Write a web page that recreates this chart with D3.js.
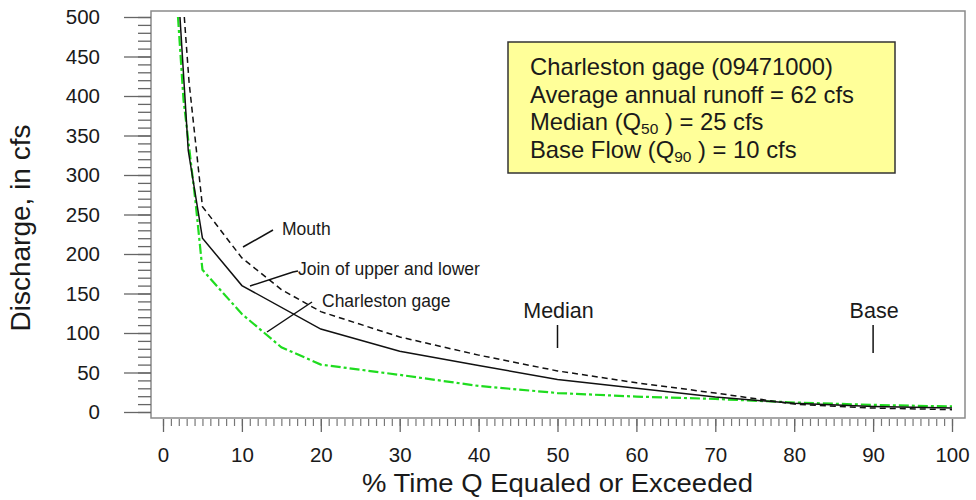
<!DOCTYPE html>
<html>
<head>
<meta charset="utf-8">
<script src="https://cdn.jsdelivr.net/npm/d3@7"></script>
<style>
  body { margin: 0; background: #fff; }
  text { font-family: "Liberation Sans", Arial, sans-serif; fill: #1a1a1a; }
</style>
</head>
<body>
<script>
// flow-duration curves: [% time exceeded, discharge cfs]
var mouth = [[2.7, 500], [3.3, 418], [5, 260], [10, 195], [15, 155], [20, 127], [30, 95], [40, 72], [50, 52], [60, 37], [70, 24], [80, 10], [90, 5], [100, 3]];
var join = [[2.15, 500], [3.2, 331], [5, 220], [10, 160], [20, 105], [30, 77], [40, 59], [50, 41], [60, 30], [70, 19], [80, 11], [90, 7], [100, 5]];
var gage = [[1.9, 500], [2.6, 395], [4.1, 268], [5, 180], [10, 124], [15, 82], [20, 60], [30, 47], [40, 33], [50, 24], [60, 19.5], [70, 16.5], [80, 12], [90, 9], [100, 7]];

var xTicks = [0, 10, 20, 30, 40, 50, 60, 70, 80, 90, 100];
var yTicks = [0, 50, 100, 150, 200, 250, 300, 350, 400, 450, 500];

var markers = [{ label: "Median", x: 50 }, { label: "Base", x: 90 }];
var infoLines = [
  { text: "Charleston gage (09471000)" },
  { text: "Average annual runoff = 62 cfs" },
  { text: "Median (Q", sub: "50", rest: " ) = 25 cfs" },
  { text: "Base Flow (Q", sub: "90", rest: " ) = 10 cfs" }
];

var width = 976,
  height = 500;

var svg = d3.select("body").append("svg")
  .attr("width", width)
  .attr("height", height);

var x = d3.scaleLinear().domain([0, 100]).range([163, 952]);
var y = d3.scaleLinear().domain([0, 500]).range([412, 17]);

// frame
svg.append("rect")
  .attr("x", 151).attr("y", 11)
  .attr("width", 814).attr("height", 407)
  .attr("fill", "#fff")
  .attr("stroke", "#8a8a8a")
  .attr("stroke-width", 1.5);

// y axis: minor then major
svg.append("g")
  .attr("transform", "translate(151,0)")
  .call(d3.axisLeft(y).tickValues(d3.range(0, 501, 10)).tickSize(13).tickFormat(""))
  .call(function (g) { g.select(".domain").remove(); g.selectAll("line").attr("stroke", "#666").attr("stroke-width", 1.3); });

svg.append("g")
  .attr("transform", "translate(151,0)")
  .call(d3.axisLeft(y).tickValues(yTicks).tickSize(27).tickPadding(24))
  .call(function (g) {
    g.select(".domain").remove();
    g.selectAll("line").attr("stroke", "#666").attr("stroke-width", 1.3);
    g.selectAll("text").attr("font-size", 20.5).attr("font-family", null).attr("fill", "#1a1a1a");
  });

// x axis
svg.append("g")
  .attr("transform", "translate(0,419)")
  .call(d3.axisBottom(x).tickValues(d3.range(0, 101, 1)).tickSize(7).tickFormat(""))
  .call(function (g) { g.select(".domain").remove(); g.selectAll("line").attr("stroke", "#777").attr("stroke-width", 1.2); });

svg.append("g")
  .attr("transform", "translate(0,419)")
  .call(d3.axisBottom(x).tickValues(xTicks).tickSize(13).tickPadding(15))
  .call(function (g) {
    g.select(".domain").remove();
    g.selectAll("line").attr("stroke", "#666").attr("stroke-width", 1.3);
    g.selectAll("text").attr("font-size", 20.5).attr("font-family", null).attr("fill", "#1a1a1a");
  });

// axis titles
svg.append("text")
  .attr("x", 557.5).attr("y", 492)
  .attr("text-anchor", "middle")
  .attr("font-size", 25)
  .attr("textLength", 391).attr("lengthAdjust", "spacingAndGlyphs")
  .text("% Time Q Equaled or Exceeded");

svg.append("text")
  .attr("transform", "translate(30,228) rotate(-90)")
  .attr("text-anchor", "middle")
  .attr("font-size", 28)
  .text("Discharge, in cfs");

// curves
var line = d3.line()
  .x(function (d) { return x(d[0]); })
  .y(function (d) { return y(d[1]); });

svg.append("path")
  .datum(gage)
  .attr("d", line)
  .attr("fill", "none")
  .attr("stroke", "#1fdc1f")
  .attr("stroke-width", 2.2)
  .attr("stroke-dasharray", "10,3,3,3");

svg.append("path")
  .datum(join)
  .attr("d", line)
  .attr("fill", "none")
  .attr("stroke", "#111")
  .attr("stroke-width", 1.5);

svg.append("path")
  .datum(mouth)
  .attr("d", line)
  .attr("fill", "none")
  .attr("stroke", "#111")
  .attr("stroke-width", 1.5)
  .attr("stroke-dasharray", "6,4");

// curve labels with leader lines
var labels = [
  { text: "Mouth", tx: 282, ty: 235, l: [[243, 247], [273, 230]] },
  { text: "Join of upper and lower", tx: 298, ty: 275, l: [[250, 286], [293, 272], [298, 271]] },
  { text: "Charleston gage", tx: 322, ty: 307, l: [[267, 332], [312, 302]] }
];
labels.forEach(function (d) {
  svg.append("path")
    .attr("d", d3.line()(d.l))
    .attr("fill", "none")
    .attr("stroke", "#111")
    .attr("stroke-width", 1.5);
  svg.append("text")
    .attr("x", d.tx).attr("y", d.ty)
    .attr("font-size", 17.5)
    .text(d.text);
});

// median / base markers
markers.forEach(function (d) {
  svg.append("text")
    .attr("x", x(d.x) + 1).attr("y", 318)
    .attr("text-anchor", "middle")
    .attr("font-size", 21.5)
    .text(d.label);
  svg.append("line")
    .attr("x1", x(d.x)).attr("x2", x(d.x))
    .attr("y1", 325).attr("y2", d.x == 90 ? 353 : 348)
    .attr("stroke", "#111")
    .attr("stroke-width", 1.5);
});

// info box
svg.append("rect")
  .attr("x", 508).attr("y", 42)
  .attr("width", 387).attr("height", 131)
  .attr("fill", "#ffff99")
  .attr("stroke", "#333")
  .attr("stroke-width", 1.5);

infoLines.forEach(function (d, i) {
  var t = svg.append("text")
    .attr("x", 530).attr("y", 75 + i * 27.7)
    .attr("font-size", 23.8);
  t.append("tspan").text(d.text);
  if (d.sub) {
    t.append("tspan").attr("dy", 4).attr("font-size", 15.5).text(d.sub);
    t.append("tspan").attr("dy", -4).text(d.rest);
  }
});
</script>
</body>
</html>
